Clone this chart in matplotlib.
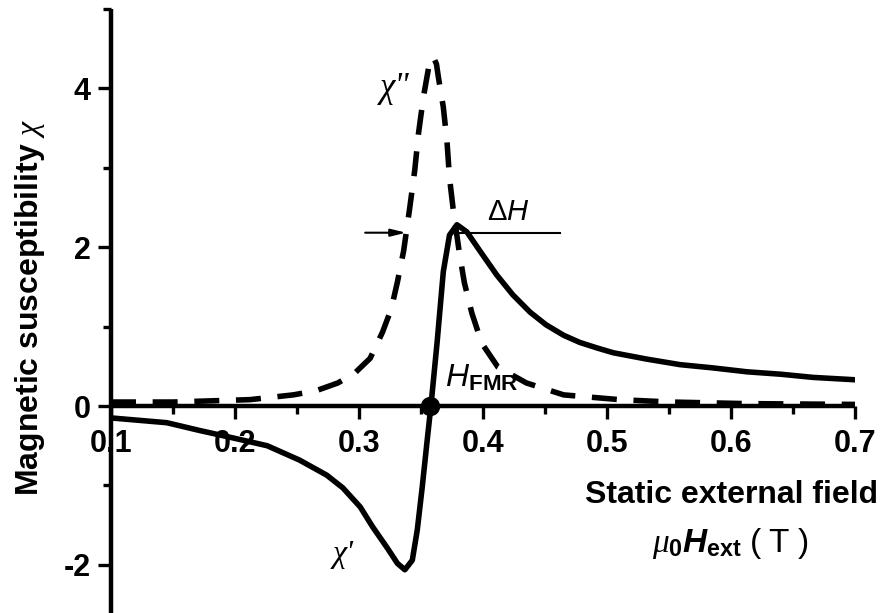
import matplotlib
matplotlib.use("Agg")
import matplotlib.pyplot as plt
from matplotlib.ticker import MultipleLocator

plt.rcParams['font.family'] = ['Liberation Sans', 'DejaVu Sans']
plt.rcParams['font.weight'] = 'bold'
plt.rcParams['axes.unicode_minus'] = False
plt.rcParams['mathtext.fontset'] = 'custom'
plt.rcParams['mathtext.rm'] = 'Liberation Sans:weight=normal'
plt.rcParams['mathtext.bf'] = 'Liberation Sans:weight=bold'
plt.rcParams['mathtext.it'] = 'Liberation Serif:italic:weight=normal'
plt.rcParams['mathtext.sf'] = 'Liberation Sans:italic:weight=normal'
plt.rcParams['mathtext.bfit'] = 'Liberation Sans:italic:weight=bold'

# ── data: real (chi') and imaginary (chi'') susceptibility vs field ──
field_re = [0.100, 0.145, 0.172, 0.198, 0.226, 0.252, 0.274, 0.287, 0.301,
            0.311, 0.323, 0.331, 0.337, 0.343, 0.347, 0.351, 0.355, 0.358,
            0.363, 0.368, 0.373, 0.379, 0.387, 0.398, 0.411, 0.424, 0.438,
            0.451, 0.465, 0.478, 0.492, 0.505, 0.532, 0.559, 0.585, 0.613,
            0.640, 0.666, 0.700]
chi_re = [-0.15, -0.21, -0.31, -0.40, -0.50, -0.68, -0.87, -1.03, -1.27,
          -1.52, -1.79, -1.98, -2.06, -1.94, -1.56, -1.02, -0.43, 0.00,
          0.80, 1.69, 2.15, 2.28, 2.19, 1.94, 1.65, 1.40, 1.18,
          1.02, 0.89, 0.80, 0.73, 0.67, 0.59, 0.52, 0.48, 0.43,
          0.40, 0.36, 0.33]

field_im = [0.100, 0.150, 0.212, 0.247, 0.265, 0.283, 0.297, 0.309, 0.319,
            0.326, 0.331, 0.336, 0.341, 0.345, 0.348, 0.352, 0.357, 0.360,
            0.3625, 0.364, 0.368, 0.371, 0.373, 0.376, 0.381, 0.385, 0.391,
            0.399, 0.412, 0.435, 0.465, 0.510, 0.551, 0.613, 0.700]
chi_im = [0.05, 0.05, 0.08, 0.14, 0.19, 0.29, 0.42, 0.60, 0.93,
          1.22, 1.56, 1.95, 2.50, 2.97, 3.43, 3.89, 4.33, 4.39,
          4.30, 4.14, 3.76, 3.32, 2.87, 2.47, 1.92, 1.55, 1.17,
          0.79, 0.49, 0.29, 0.14, 0.08, 0.05, 0.03, 0.02]

h_fmr = 0.357
# linewidth markers: left arrow and right bar at half height
dh_level = 2.18
dh_left = [0.305, 0.338]
dh_right = [0.381, 0.462]

fig = plt.figure(figsize=(8.85, 6.13), dpi=100)
ax = fig.add_axes([0.1254, 0.0005, 0.8407, 0.9856])

ax.plot(field_re, chi_re, color='black', lw=4, zorder=3,
        solid_joinstyle='round', solid_capstyle='round')
ax.plot(field_im, chi_im, color='black', lw=4, zorder=3,
        linestyle=(0, (4.5, 3)), dash_capstyle='butt')
ax.plot([h_fmr], [0], 'o', color='black', ms=13, zorder=4)

# delta H indicator
ax.annotate('', xy=(dh_left[1], dh_level), xytext=(dh_left[0], dh_level),
            arrowprops=dict(arrowstyle='-|>,head_length=0.9,head_width=0.22',
                            lw=1.5, color='black', shrinkA=0, shrinkB=0),
            zorder=2)
ax.plot(dh_right, [dh_level, dh_level], color='black', lw=1.5, zorder=2)

# axes styling
ax.set_xlim(0.1, 0.7)
ax.set_ylim(-2.6, 5.0)
ax.spines['top'].set_visible(False)
ax.spines['right'].set_visible(False)
ax.spines['bottom'].set_position(('data', 0))
for s in ('left', 'bottom'):
    ax.spines[s].set_linewidth(3.2)
    ax.spines[s].set_capstyle('butt')

ax.xaxis.set_minor_locator(MultipleLocator(0.05))
ax.yaxis.set_minor_locator(MultipleLocator(1))
ax.set_xticks([0.1, 0.2, 0.3, 0.4, 0.5, 0.6, 0.7])
ax.set_xticklabels(['0.1', '0.2', '0.3', '0.4', '0.5', '0.6', '0.7'])
ax.set_yticks([-2, 0, 2, 4])
ax.set_yticklabels(['-2', '0', '2', '4'])
ax.tick_params(which='major', direction='out', length=9.5, width=2.4,
               labelsize=22)
ax.tick_params(which='minor', direction='out', length=6, width=2.4)
ax.tick_params(axis='x', pad=7)
ax.tick_params(axis='y', pad=5)

# labels
fig.text(30 / 885, 1 - 307 / 613, r'Magnetic susceptibility $\chi$',
         rotation=90, ha='center', va='center', fontsize=23, fontweight='bold')
fig.text(878 / 885, 1 - 503 / 613, 'Static external field',
         ha='right', va='baseline', fontsize=23, fontweight='bold')
fig.text(730 / 885, 1 - 552 / 613,
         r'$\mu_\mathbf{0}\mathbfit{H}_\mathbf{ext}\ \mathrm{(\ T\ )}$',
         ha='center', va='baseline', fontsize=24)

ax.text(0.329, 4.0, 'χ"', family='Liberation Serif', style='italic',
        fontweight='normal', fontsize=25, ha='center', va='center')
ax.text(0.287, -1.87, "χ'", family='Liberation Serif', style='italic',
        fontweight='normal', fontsize=23, ha='center', va='center')
ax.text(0.420, 2.44, r'Δ$\mathsf{H}$', fontweight='normal', fontsize=21,
        ha='center', va='center')
ax.text(0.369, 0.24, r'$\mathsf{H}_\mathbf{FMR}$', fontsize=23,
        ha='left', va='baseline')

fig.savefig('out.png', dpi=100)
